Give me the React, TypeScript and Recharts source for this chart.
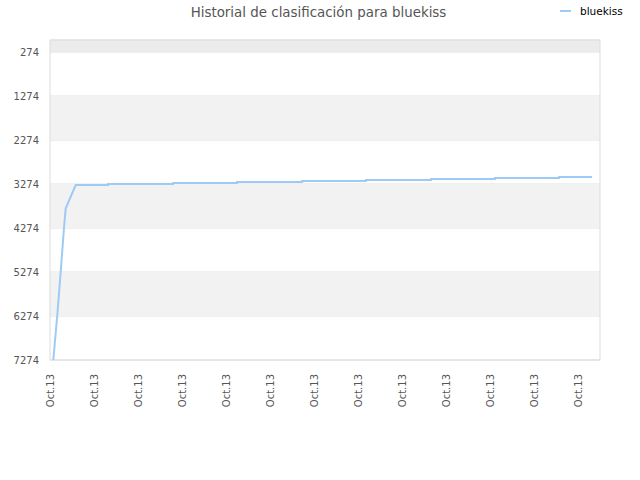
import React from 'react';
import { LineChart, Line, XAxis, YAxis, CartesianGrid, ReferenceArea } from 'recharts';

const xPositions = [0.75, 1.66, 2.43, 3.18, 3.57, 5.84, 13.2, 13.2, 27.95, 27.95, 42.5, 42.5, 57.3, 57.3, 71.8, 71.8, 86.6, 86.6, 101.1, 101.1, 115.7, 115.7, 123.2];
const ranks = [7274, 6251, 5267, 4274, 3826, 3297, 3297, 3274, 3274, 3251, 3251, 3229, 3229, 3206, 3206, 3183, 3183, 3160, 3160, 3138, 3138, 3115, 3115];
const yTicks = [274, 1274, 2274, 3274, 4274, 5274, 6274, 7274];
const xTicks = [0, 10, 20, 30, 40, 50, 60, 70, 80, 90, 100, 110, 120];
const xTickLabel = 'Oct.13';
const seriesName = 'bluekiss';
const title = 'Historial de clasificación para bluekiss';

const data = xPositions.map((x, i) => ({ x, rank: ranks[i] }));

const FONT = 'DejaVu Sans, sans-serif';

const XTick = (props: any) => {
  const { x, y } = props;
  const ty = y + 6;
  return (
    <text
      x={x}
      y={ty}
      transform={`rotate(-90 ${x} ${ty})`}
      textAnchor="end"
      dy="0.35em"
      fontSize={10}
      fontFamily={FONT}
      fill="#555"
    >
      {xTickLabel}
    </text>
  );
};

export default function App() {
  return (
    <div style={{ position: 'absolute', left: 0, top: 0, width: 640, height: 480, background: '#fff' }}>
      <div style={{ position: 'absolute', left: 0, top: 5, width: 637, textAlign: 'center', fontFamily: FONT, fontSize: 13.4, color: '#555' }}>
        {title}
      </div>
      <div style={{ position: 'absolute', left: 560, top: 5, display: 'flex', alignItems: 'center', fontFamily: FONT, fontSize: 10.5, color: '#000' }}>
        <span style={{ display: 'inline-block', width: 11, height: 2, background: '#9ecbf5', marginRight: 9 }} />
        <span>{seriesName}</span>
      </div>
      <LineChart width={640} height={480} data={data} margin={{ top: 40, right: 40, left: 0, bottom: 60 }}>
        <ReferenceArea x1={0} x2={125} y1={0} y2={274} fill="#ececec" fillOpacity={1} stroke="none" />
        <ReferenceArea x1={0} x2={125} y1={1274} y2={2274} fill="#f2f2f2" fillOpacity={1} stroke="none" />
        <ReferenceArea x1={0} x2={125} y1={3274} y2={4274} fill="#f2f2f2" fillOpacity={1} stroke="none" />
        <ReferenceArea x1={0} x2={125} y1={5274} y2={6274} fill="#f2f2f2" fillOpacity={1} stroke="none" />
        <CartesianGrid vertical={false} stroke="#e0e0e0" strokeDasharray="" />
        <ReferenceArea x1={0} x2={125} y1={0} y2={7274} fill="none" stroke="#dcdcdc" strokeWidth={1} />
        <XAxis
          type="number"
          dataKey="x"
          domain={[0, 125]}
          ticks={xTicks}
          interval={0}
          height={60}
          axisLine={false}
          tickLine={false}
          tick={<XTick />}
        />
        <YAxis
          type="number"
          dataKey="rank"
          domain={[0, 7274]}
          ticks={yTicks}
          interval={0}
          reversed
          width={50}
          axisLine={false}
          tickLine={false}
          tickMargin={5}
          tick={{ fontSize: 10, fontFamily: FONT, fill: '#555' }}
        />
        <Line
          type="linear"
          dataKey="rank"
          stroke="#9ecbf5"
          strokeWidth={2}
          dot={false}
          isAnimationActive={false}
        />
      </LineChart>
    </div>
  );
}
